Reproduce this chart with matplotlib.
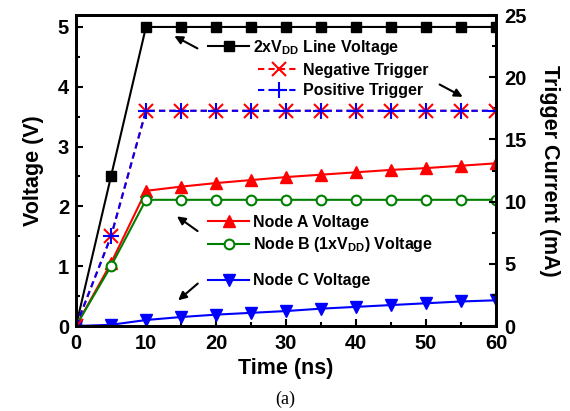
import matplotlib.pyplot as plt
from matplotlib.ticker import MultipleLocator

plt.rcParams['font.family'] = ['Liberation Sans', 'DejaVu Sans']
plt.rcParams['font.weight'] = 'bold'
plt.rcParams['mathtext.fontset'] = 'custom'
plt.rcParams['mathtext.rm'] = 'Liberation Sans:bold'
plt.rcParams['mathtext.bf'] = 'Liberation Sans:bold'

time_ns = [0, 5, 10, 15, 20, 25, 30, 35, 40, 45, 50, 55, 60]
line_2vdd = [0, 2.5, 5, 5, 5, 5, 5, 5, 5, 5, 5, 5, 5]
node_a = [0, 1.05, 2.26, 2.33, 2.39, 2.44, 2.49, 2.53, 2.57, 2.61, 2.64, 2.68, 2.72]
node_b = [0, 1.0, 2.11, 2.11, 2.11, 2.11, 2.11, 2.11, 2.11, 2.11, 2.11, 2.11, 2.11]
node_c = [0, 0.02, 0.1, 0.15, 0.19, 0.22, 0.25, 0.29, 0.32, 0.35, 0.38, 0.41, 0.43]
neg_trigger = [0, 7.2, 17.3, 17.3, 17.3, 17.3, 17.3, 17.3, 17.3, 17.3, 17.3, 17.3, 17.3]
pos_trigger = [0, 7.2, 17.3, 17.3, 17.3, 17.3, 17.3, 17.3, 17.3, 17.3, 17.3, 17.3, 17.3]

fig = plt.figure(figsize=(5.7, 4.11), dpi=100)
ax = fig.add_axes([0.1333, 0.2068, 0.7368, 0.7567])
ax2 = ax.twinx()

ms = 7
h1, = ax.plot(time_ns, line_2vdd, '-s', color='black', lw=1.5, ms=ms)
ha, = ax.plot(time_ns, node_a, '-^', color='red', lw=1.5, ms=ms + 1)
hb, = ax.plot(time_ns, node_b, '-o', color='#008000', lw=1.5, ms=ms,
              mfc='white', mew=1.5)
hc, = ax.plot(time_ns, node_c, '-v', color='#0000ff', lw=1.5, ms=ms + 1)
hn, = ax2.plot(time_ns, neg_trigger, '--x', color='red', lw=1.5, ms=ms + 3,
               mew=1.5, dashes=(3, 2))
hp, = ax2.plot(time_ns, pos_trigger, '--+', color='#0000ff', lw=1.5, ms=ms + 4,
               mew=1.5, dashes=(3, 2))

ax.set_xlim(0, 60)
ax.set_ylim(0, 5.2)
ax2.set_ylim(0, 25)

ax.xaxis.set_major_locator(MultipleLocator(10))
ax.xaxis.set_minor_locator(MultipleLocator(5))
ax.yaxis.set_major_locator(MultipleLocator(1))
ax.yaxis.set_minor_locator(MultipleLocator(0.5))
ax2.yaxis.set_major_locator(MultipleLocator(5))
ax2.yaxis.set_minor_locator(MultipleLocator(2.5))

for a in (ax, ax2):
    a.tick_params(which='both', direction='in', width=1.5, labelsize=14.5)
    a.tick_params(which='major', length=5)
    a.tick_params(which='minor', length=3)
    for s in a.spines.values():
        s.set_linewidth(2)
ax.tick_params(axis='x', pad=6)
ax.tick_params(axis='y', pad=5)
ax2.tick_params(axis='y', pad=6)

ax.set_xlabel('Time (ns)', fontsize=15.5, fontweight='bold', labelpad=3)
ax.set_ylabel('Voltage (V)', fontsize=15.5, fontweight='bold', labelpad=10)
ax2.set_ylabel('Trigger Current (mA)', fontsize=15.5, fontweight='bold',
               rotation=270, labelpad=24)

leg_kw = dict(frameon=False, loc='center left', borderpad=0,
              borderaxespad=0, handlelength=2.6, handletextpad=0.2,
              labelspacing=0.32, prop={'weight': 'bold', 'size': 11.5})
l1 = ax2.legend([h1], [r'2xV$_{\mathregular{DD}}$ Line Voltage'],
                bbox_to_anchor=(0.314, 0.897), **leg_kw)
ax2.add_artist(l1)
l2 = ax2.legend([hn, hp], ['Negative Trigger', 'Positive Trigger'],
                bbox_to_anchor=(0.433, 0.789), **leg_kw)
ax2.add_artist(l2)
l3 = ax2.legend([ha, hb], ['Node A Voltage', r'Node B (1xV$_{\mathregular{DD}}$) Voltage'],
                bbox_to_anchor=(0.314, 0.294), **leg_kw)
ax2.add_artist(l3)
ax2.legend([hc], ['Node C Voltage'], bbox_to_anchor=(0.314, 0.145), **leg_kw)

arrow = dict(arrowstyle='-|>', color='black', lw=1.5, mutation_scale=12)
ax.annotate('', xy=(13.7, 4.87), xytext=(17.7, 4.62), arrowprops=arrow)
ax.annotate('', xy=(55.6, 3.81), xytext=(51.6, 4.06), arrowprops=arrow)
ax.annotate('', xy=(14.1, 1.86), xytext=(17.7, 1.56), arrowprops=arrow)
ax.annotate('', xy=(14.3, 0.40), xytext=(17.7, 0.74), arrowprops=arrow)

fig.text(0.5, 1 - 399 / 411, '(a)', fontsize=13, family='Liberation Serif',
         fontweight='normal', ha='center', va='center')

fig.savefig('out.png', dpi=100)
